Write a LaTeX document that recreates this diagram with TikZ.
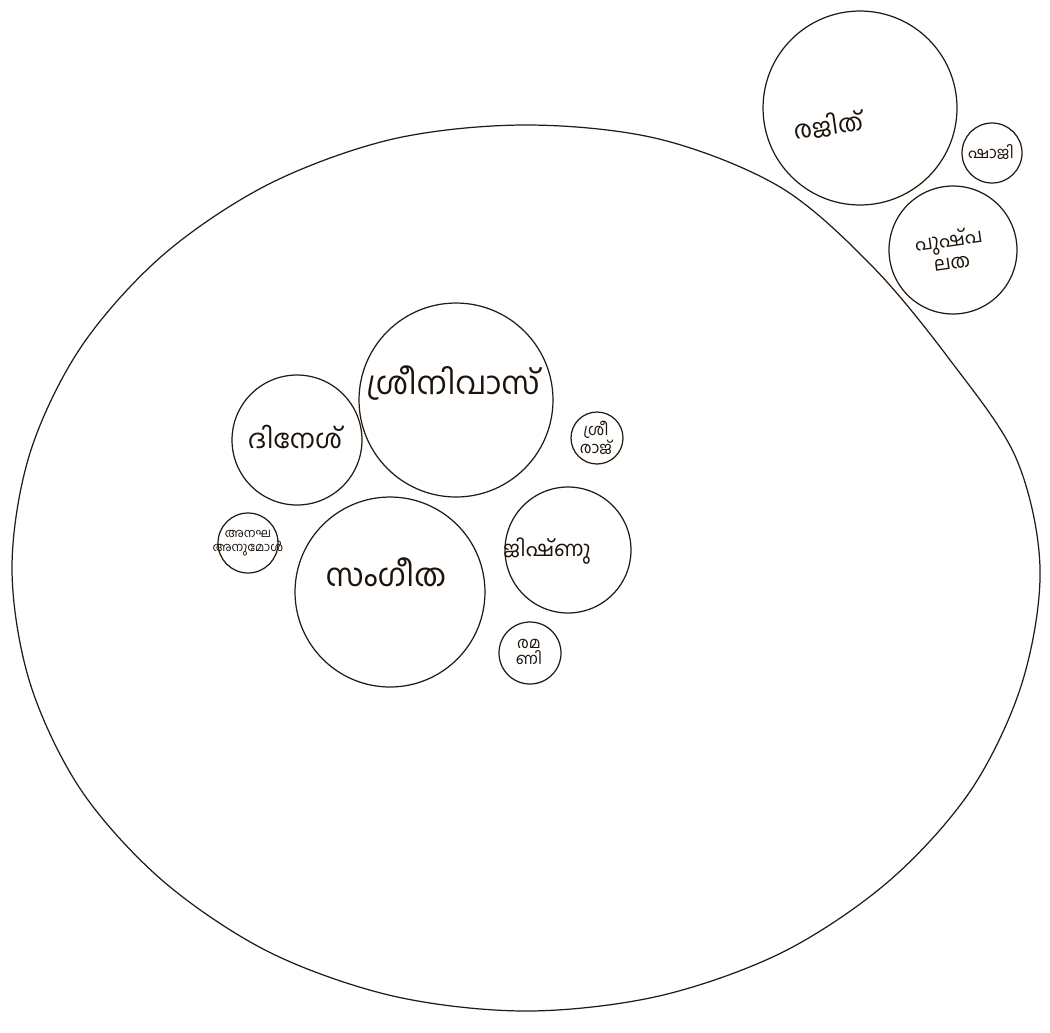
\documentclass[tikz,border=0pt]{standalone}
\usepackage{fontspec}
\newfontfamily\mlfont[Script=Malayalam]{Hind Kochi}
\begin{document}
\begin{tikzpicture}[x=0.02cm,y=-0.02cm,
  ring/.style={draw=black!80!brown, line width=0.7pt, circle, inner sep=0pt},
  lbl/.style={font=\mlfont\fontsize{18}{20}\selectfont, text=black!85!brown, align=center},
  slbl/.style={font=\mlfont\fontsize{9}{9}\selectfont, text=black!85!brown, align=center}]
\useasboundingbox (0,0) rectangle (1050,1032);
% outer boundary (hand-drawn, roughly elliptical)
\draw[draw=black!80!brown, line width=0.7pt] plot[smooth cycle, tension=0.55] coordinates {
 (526,125) (659,139) (780,187) (872,266) (950,360) (1016,458) (1040,568)
 (1022,683) (971,790) (889,881) (783,952) (659,996) (526,1011) (393,996)
 (269,952) (163,881) (81,790) (30,683) (12,568) (30,453) (81,347)
 (163,255) (269,184) (393,139)};
% inner circles
\node[ring, minimum size=3.88cm] (sri) at (456,400) {};
\node[ring, minimum size=2.6cm] (din) at (297,440) {};
\node[ring, minimum size=3.8cm] (san) at (390,592) {};
\node[ring, minimum size=2.52cm] (jis) at (568,550) {};
\node[ring, minimum size=1.04cm] (srr) at (597,438) {};
\node[ring, minimum size=1.2cm] (anu) at (248,543) {};
\node[ring, minimum size=1.24cm] (ram) at (530,653) {};
% top right cluster
\node[ring, minimum size=3.88cm] (raj) at (860,108) {};
\node[ring, minimum size=1.2cm] (sha) at (992,153) {};
\node[ring, minimum size=2.56cm] (pus) at (953,250) {};
% labels
\node[lbl] at (453,383) {ശ്രീനിവാസ്};
\node[lbl, font=\mlfont\fontsize{15}{16}\selectfont] at (295,437) {ദിനേശ്};
\node[lbl] at (386,572) {സംഗീത};
\node[lbl, font=\mlfont\fontsize{12}{14}\selectfont] at (547,551) {ജിഷ്ണു};
\node[slbl] at (596,438) {ശ്രീ\\രാജ്};
\node[slbl, font=\mlfont\fontsize{7}{8}\selectfont] at (248,543) {അനഘ\\അനുമോൾ};
\node[slbl] at (529,652) {രമ\\ണി};
\node[lbl, font=\mlfont\fontsize{14}{15}\selectfont, rotate=8] at (828,125) {രജിത്};
\node[slbl, font=\mlfont\fontsize{9}{10}\selectfont] at (991,152) {ഷാജി};
\node[slbl, font=\mlfont\fontsize{11}{13}\selectfont, rotate=8] at (950,250) {പുഷ്പ\\ലത};
\end{tikzpicture}
\end{document}
